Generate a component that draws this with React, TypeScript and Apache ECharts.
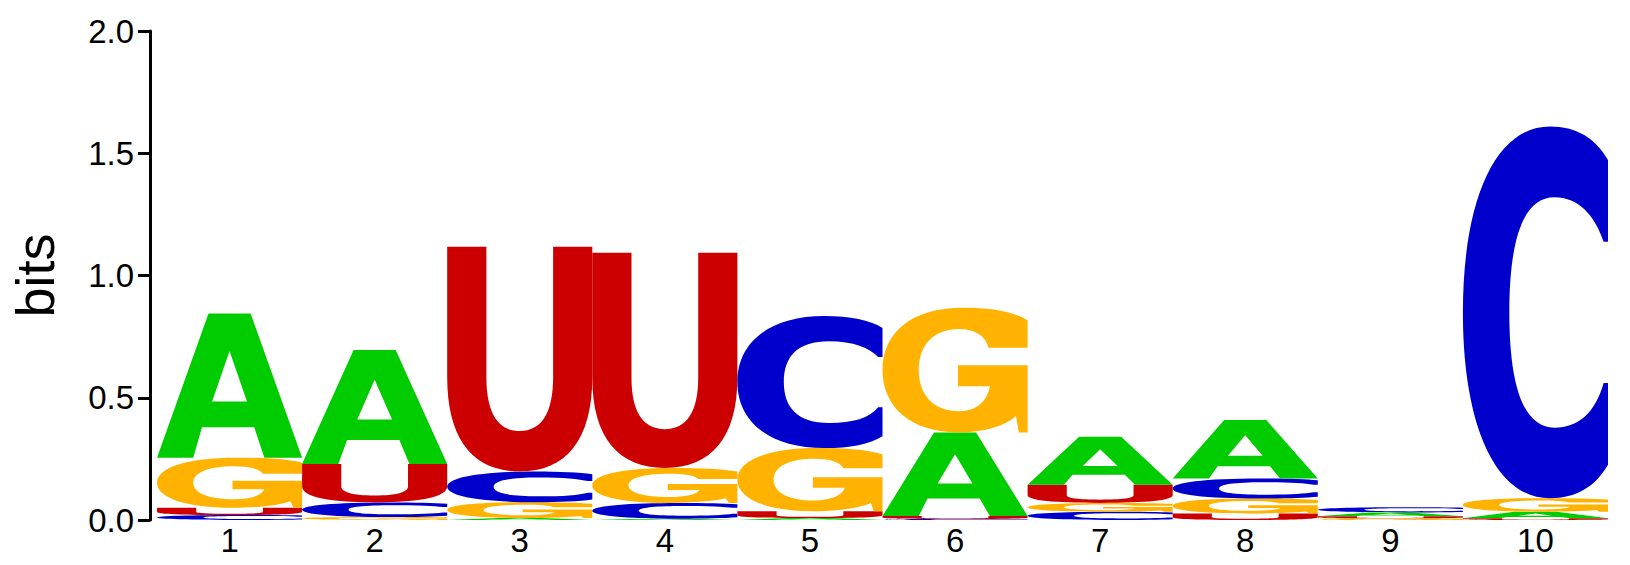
import { useEffect, useRef } from "react";
import * as echarts from "echarts";

// positions along the sequence
const positions = ["1", "2", "3", "4", "5", "6", "7", "8", "9", "10"];

// information (bits) carried by each base at each position
const bitsA = [0.59, 0.466, 0.008, 0.005, 0.008, 0.342, 0.197, 0.239, 0.016, 0.027];
const bitsC = [0.02, 0.06, 0.125, 0.065, 0.54, 0.004, 0.034, 0.082, 0.021, 1.52];
const bitsG = [0.205, 0.012, 0.065, 0.143, 0.258, 0.51, 0.036, 0.061, 0.007, 0.055];
const bitsU = [0.03, 0.157, 0.92, 0.88, 0.028, 0.012, 0.074, 0.027, 0.008, 0.007];

const yTicks = [0, 0.5, 1, 1.5, 2];

const letters = ["A", "C", "G", "U"];
const letterBits = [bitsA, bitsC, bitsG, bitsU];
const letterColors = ["#00CC00", "#0000CC", "#FFB300", "#CC0000"];

// glyph outlines in a 100x100 box, stretched to fill each stack slot
const glyphs: Record<string, string> = {
  A: "M0,100 L35.5,0 L64.5,0 L100,100 L74,100 L67,79 L31,79 L25,100 Z M38,61 L62,61 L50,26 Z",
  C:
    "M100,9 C91,3 78,0 60,0 C22,0 0,20 0,50 C0,80 22,100 60,100 C78,100 91,97 100,91 " +
    "L100,69 L97,69 C91,77 80,81 63,81 C42,81 32,70 32,50 C32,30 42,19 63,19 C80,19 91,24 97,31 L100,31 Z",
  G:
    "M100,10 C90,3 75,0 55,0 C20,0 0,20 0,50 C0,80 20,100 52,100 C70,100 84,95 92,87 " +
    "L94,100 L100,100 L100,46 L52,46 L52,63 L74,63 C72,76 64,83 53,83 C35,83 25,70 25,50 " +
    "C25,30 35,17 53,17 C63,17 71,22 73,32 L100,32 Z",
  U: "M0,0 L27,0 L27,58 C27,74 35,82 50,82 C65,82 73,74 73,58 L73,0 L100,0 L100,58 C100,86 82,100 50,100 C18,100 0,86 0,58 Z",
};

export default function App() {
  const chartRef = useRef<HTMLDivElement>(null);

  useEffect(() => {
    if (!chartRef.current) return;
    const chart = echarts.init(chartRef.current, null, { renderer: "svg" });

    // stack letters per column, smallest at the bottom
    const stackData: number[][] = [];
    positions.forEach((_, col) => {
      const order = letters
        .map((_, li) => li)
        .sort((a, b) => letterBits[a][col] - letterBits[b][col]);
      let base = 0;
      order.forEach((li) => {
        const h = letterBits[li][col];
        stackData.push([col, base, base + h, li]);
        base += h;
      });
    });

    const font = "'Liberation Sans', Arial, Helvetica, sans-serif";

    const option: echarts.EChartsOption = {
      animation: false,
      grid: { left: 148, right: 22, top: 31, bottom: 45 },
      xAxis: {
        type: "category",
        data: positions,
        axisLine: { show: false },
        axisTick: { show: false },
        axisLabel: { color: "#000", fontSize: 33, fontFamily: font, margin: 4 },
      },
      yAxis: {
        type: "value",
        min: 0,
        max: 2,
        interval: 0.5,
        offset: 7,
        name: "bits",
        nameLocation: "middle",
        nameGap: 88,
        nameTextStyle: { color: "#000", fontSize: 54, fontFamily: font },
        splitLine: { show: false },
        axisLine: { show: true, lineStyle: { color: "#000", width: 3 } },
        axisTick: { show: true, length: 12, lineStyle: { color: "#000", width: 3 } },
        axisLabel: {
          color: "#000",
          fontSize: 33,
          fontFamily: font,
          margin: 16,
          formatter: (v: number) => (yTicks.includes(v) ? v.toFixed(1) : ""),
        },
      },
      series: [
        {
          type: "custom",
          data: stackData,
          encode: { x: 0, y: [1, 2] },
          renderItem: (params: any, api: any) => {
            const col = api.value(0);
            const y0 = api.value(1);
            const y1 = api.value(2);
            const li = api.value(3);
            const bottom = api.coord([col, y0]);
            const top = api.coord([col, y1]);
            const bw = api.size([1, 0])[0];
            return {
              type: "path",
              shape: {
                pathData: glyphs[letters[li]],
                x: bottom[0] - bw / 2,
                y: top[1],
                width: bw,
                height: Math.max(bottom[1] - top[1], 0.1),
                layout: "cover",
              },
              style: { fill: letterColors[li] },
            };
          },
        },
      ],
    };

    chart.setOption(option);
    return () => chart.dispose();
  }, []);

  return (
    <div
      ref={chartRef}
      style={{ position: "fixed", left: 0, top: 0, width: 1630, height: 565, background: "#fff" }}
    />
  );
}
